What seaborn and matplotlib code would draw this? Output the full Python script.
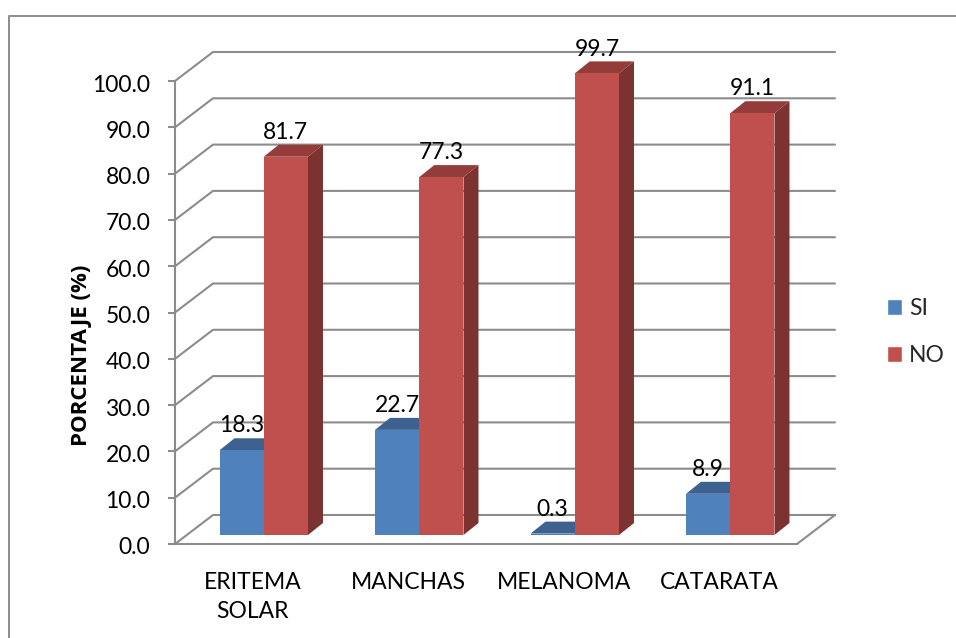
import pandas as pd
import matplotlib
matplotlib.use('Agg')
import matplotlib.pyplot as plt
import seaborn as sns
from matplotlib.lines import Line2D
from matplotlib.patches import Polygon
from matplotlib.transforms import Affine2D

categories = ['ERITEMA\nSOLAR', 'MANCHAS', 'MELANOMA', 'CATARATA']
si_values = [18.3, 22.7, 0.3, 8.9]
no_values = [81.7, 77.3, 99.7, 91.1]
y_ticks = [0, 10, 20, 30, 40, 50, 60, 70, 80, 90, 100]

W, H = 956, 638
GRAY = '#8c8c8c'
BLUE = '#4f81bd'
RED = '#c0504d'
BLUE_TOP, BLUE_SIDE = '#3d6290', '#385d8a'
RED_TOP, RED_SIDE = '#943c3a', '#7c3230'
FS = 16.5

df = pd.DataFrame({
    'cat': categories * 2,
    'serie': ['SI'] * 4 + ['NO'] * 4,
    'val': si_values + no_values,
})

sns.set_theme(style='white')
plt.rcParams['font.family'] = ['Lato', 'DejaVu Sans']

fig = plt.figure(figsize=(W / 100, H / 100), dpi=100)
ax = fig.add_axes([175 / W, (H - 544) / H, 622 / W, 463 / H])
ax.patch.set_alpha(0)

sns.barplot(data=df, x='cat', y='val', hue='serie', hue_order=['SI', 'NO'],
            palette=[BLUE, RED], width=0.569, gap=0, saturation=1, legend=False,
            linewidth=0, edgecolor='none', ax=ax)

ax.set_xlim(-0.5, 3.5)
ax.set_ylim(0, 100)
px_x = 4 / 622
px_y = 100 / 463

# back wall and floor
wall_x, wall_y = 38 * px_x, 29 * px_y
for v in y_ticks:
    ax.plot([-0.5, -0.5 + wall_x, 3.5 + wall_x], [v, v + wall_y, v + wall_y],
            color=GRAY, lw=1.5, clip_on=False, zorder=1)
ax.plot([3.5, 3.5 + wall_x], [0, wall_y], color=GRAY, lw=1.5, clip_on=False, zorder=1)

# bars are pushed back from the floor edge, with side and top faces
shift = ax.transData + Affine2D().translate(11, 9)
depth_x, depth_y = 15 * px_x, 12 * px_y
n = len(categories)
for i, bar in enumerate(ax.patches[:2 * n]):
    is_si = i < n
    x0, w, h = bar.get_x(), bar.get_width(), bar.get_height()
    x1 = x0 + w
    top = Polygon([(x0, h), (x0 + depth_x, h + depth_y), (x1 + depth_x, h + depth_y), (x1, h)],
                  fc=BLUE_TOP if is_si else RED_TOP, ec='none', transform=shift,
                  clip_on=False, zorder=3 if is_si else 5)
    side = Polygon([(x1, 0), (x1 + depth_x, depth_y), (x1 + depth_x, h + depth_y), (x1, h)],
                   fc=BLUE_SIDE if is_si else RED_SIDE, ec='none', transform=shift,
                   clip_on=False, zorder=3 if is_si else 5)
    ax.add_patch(top)
    ax.add_patch(side)
    bar.set_transform(shift)
    bar.set_clip_on(False)
    bar.set_zorder(4 if is_si else 6)
    ax.annotate(f'{h:.1f}', xy=(x0 + w / 2, h), xycoords=shift, xytext=(0, 17.5),
                textcoords='offset points', ha='center', va='center',
                fontsize=FS, color='black', zorder=10, annotation_clip=False)

sns.despine(ax=ax, top=True, right=True)
for s in ['left', 'bottom']:
    ax.spines[s].set_color(GRAY)
    ax.spines[s].set_linewidth(1.5)
    ax.spines[s].set_zorder(2)

ax.set_yticks(y_ticks)
ax.set_yticklabels([f'{v:.1f}' for v in y_ticks], fontsize=FS, color='black', va='center_baseline')
ax.tick_params(axis='y', left=True, length=5, width=1.5, color=GRAY, pad=12)
ax.tick_params(axis='x', bottom=False, pad=14, labelsize=FS, labelcolor='black')
for t in ax.get_yticklabels():
    t.set_transform(t.get_transform() + Affine2D().translate(-1, -2))
for t in ax.get_xticklabels():
    t.set_linespacing(1.5)
ax.set_xlabel('')
ax.set_ylabel('PORCENTAJE (%)', fontsize=16, fontweight='bold', color='black',
              family='Open Sans', va='center')
ax.yaxis.set_label_coords((82 - 175) / 622, (544 - 355) / 463)

handles = [Polygon([(0, 0)], fc=BLUE), Polygon([(0, 0)], fc=RED)]
fig.legend(handles, ['SI', 'NO'], loc='center left', frameon=False, fontsize=FS,
           bbox_to_anchor=(887 / W, (H - 332) / H), handlelength=0.66, handleheight=0.66,
           handletextpad=0.3, labelspacing=1.15, borderpad=0, borderaxespad=0)

# chart border
fig.add_artist(Line2D([9 / W, 9 / W, 1], [0, (H - 16) / H, (H - 16) / H], color=GRAY, lw=1.4))

fig.savefig('out.png', dpi=100)
